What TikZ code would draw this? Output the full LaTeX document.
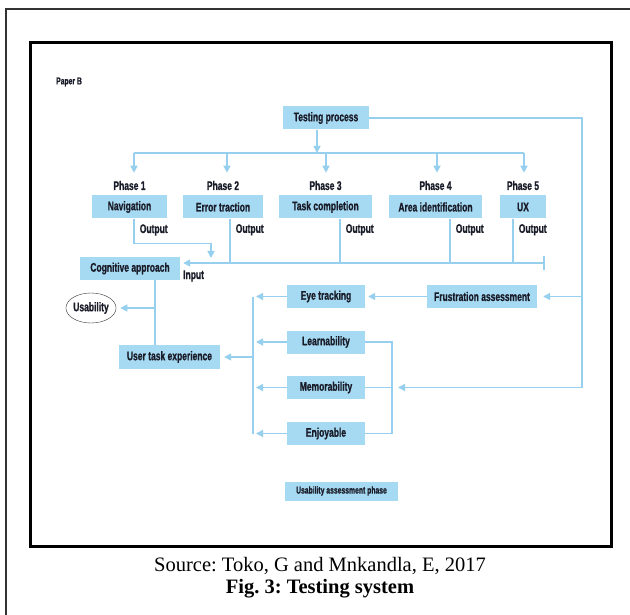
\documentclass[tikz,border=0pt]{standalone}
\usepackage{fontspec}
\setmainfont{Liberation Serif}
\newfontfamily\boxfont[FakeStretch=0.68, BoldFeatures={FakeBold=0.9}]{Liberation Sans}
\usetikzlibrary{shapes.geometric, arrows.meta, positioning}
\definecolor{boxblue}{RGB}{166,217,242}
\definecolor{lineblue}{RGB}{150,208,238}
\definecolor{inktext}{RGB}{25,28,40}
\frenchspacing

\begin{document}
\begin{tikzpicture}[x=1pt, y=-1pt]
    % Node styles
    \tikzstyle{box} = [rectangle, fill=boxblue, inner sep=0pt, minimum height=23pt, text=inktext, font=\boxfont\bfseries\fontsize{12.5}{14}\selectfont]
    \tikzstyle{lbl} = [inner sep=0pt, text=inktext, font=\boxfont\bfseries\fontsize{12.5}{14}\selectfont]
    \tikzstyle{flowline} = [draw=lineblue, line width=1.6pt]
    \tikzstyle{flowarrow} = [flowline, -{Triangle[length=7pt,width=7pt]}]

    \useasboundingbox (0,0) rectangle (630,615);
    % Frames
    \draw[line width=2pt, black!80] (6,615) -- (6,9) -- (630,9);
    \draw[line width=3pt] (30,43) rectangle (611,546);

    \node (paper) [lbl, anchor=west, font=\boxfont\bfseries\fontsize{10}{12}\selectfont] at (56,82) {Paper B};

    % Nodes
    \node (testing) [box, minimum width=86pt] at (326,118) {Testing process};
    \node (nav) [box, minimum width=75pt] at (129.5,207) {Navigation};
    \node (err) [box, minimum width=80pt] at (223,207) {Error traction};
    \node (task) [box, minimum width=93pt] at (325.5,207) {Task completion};
    \node (area) [box, minimum width=93pt] at (435.5,207) {Area identification};
    \node (ux) [box, minimum width=46pt] at (523,207) {UX};
    \node (ph1) [lbl, above=5pt of nav] {Phase 1};
    \node (ph2) [lbl, above=5pt of err] {Phase 2};
    \node (ph3) [lbl, above=5pt of task] {Phase 3};
    \node (ph4) [lbl, above=5pt of area] {Phase 4};
    \node (ph5) [lbl, above=5pt of ux] {Phase 5};

    \node (cog) [box, minimum width=100pt] at (130,268.5) {Cognitive approach};
    \node (input) [lbl, anchor=west] at (183,276) {Input};
    \node (usab) [ellipse, draw=black!80, thin, minimum width=50pt, minimum height=30pt, inner sep=0pt, text=inktext, font=\boxfont\bfseries\fontsize{12.5}{14}\selectfont] at (91,308) {Usability};
    \node (user) [box, minimum width=101pt, minimum height=24pt] at (169.5,357) {User task experience};

    \node (eye) [box, minimum width=78pt] at (326,296.5) {Eye tracking};
    \node (learn) [box, minimum width=78pt] at (326,342) {Learnability};
    \node (mem) [box, minimum width=78pt] at (326,387.5) {Memorability};
    \node (enjoy) [box, minimum width=78pt] at (326,433.5) {Enjoyable};
    \node (frus) [box, minimum width=110pt] at (482,296.5) {Frustration assessment};
    \node (uap) [box, minimum width=113pt, minimum height=19pt, font=\boxfont\bfseries\fontsize{10}{12}\selectfont] at (341.5,491) {Usability assessment phase};

    % Bus points
    \coordinate (tdown) at (317,153);
    \coordinate (b1) at (134,153);
    \coordinate (b2) at (227,153);
    \coordinate (b3) at (326,153);
    \coordinate (b4) at (437,153);
    \coordinate (b5) at (524,153);
    \coordinate (in1) at (211,258);
    \coordinate (c2) at (230,263);
    \coordinate (c3) at (340,263);
    \coordinate (c4) at (450,263);
    \coordinate (c5) at (513,263);
    \coordinate (cend) at (544,263);
    \coordinate (v1) at (155,308);
    \coordinate (lb) at (253,357);
    \coordinate (rb) at (392,387.5);
    \coordinate (rv) at (582,387.5);

    % Testing process to the phases
    \draw[flowarrow] (testing.south -| tdown) -- (tdown);
    \draw[flowline] (b1) -- (b5);
    \foreach \b/\p in {b1/ph1, b2/ph2, b3/ph3, b4/ph4, b5/ph5}
        \draw[flowarrow] (\b) -- ([yshift=8pt]\p.north -| \b);

    % Outputs
    \draw[flowarrow] (nav.south -| b1) -- node[lbl, right=5pt, pos=0.45] {Output} ++(0,25) -| (in1);
    \draw[flowline] (err.south -| c2) -- node[lbl, right=5pt, pos=0.25] {Output} (c2);
    \draw[flowline] (task.south -| c3) -- node[lbl, right=5pt, pos=0.25] {Output} (c3);
    \draw[flowline] (area.south -| c4) -- node[lbl, right=5pt, pos=0.25] {Output} (c4);
    \draw[flowline] (ux.south -| c5) -- node[lbl, right=5pt, pos=0.25] {Output} (c5);
    \draw[flowarrow] (cend) -- ([xshift=3pt, yshift=5.5pt]cog.east);
    \draw[flowline] ([yshift=7pt]cend) -- ([yshift=-7pt]cend);

    % Cognitive approach
    \draw[flowline] (cog.south -| v1) -- (user.north -| v1);
    \draw[flowarrow, shorten >=4pt] (v1) -- (usab.east);

    % Assessment group
    \draw[flowline] (eye.west -| lb) -- (enjoy.west -| lb);
    \foreach \n in {eye, learn, mem, enjoy}
        \draw[flowarrow, shorten >=3pt] (\n.west) -- (\n.west -| lb);
    \draw[flowarrow, shorten >=4pt] (lb) -- (user.east);
    \draw[flowline] (learn.east) -| (rb) |- (enjoy.east);
    \draw[flowline] (mem.east) -- (rb);
    \draw[flowarrow, shorten >=6pt] (testing.east) -| (rv) -- (rb);
    \draw[flowarrow, shorten >=6pt] (frus.east -| rv) -- (frus.east);
    \draw[flowarrow, shorten >=3pt] (frus.west) -- (eye.east);

    % Caption
    \node (source) [font=\fontsize{20.5}{24}\selectfont] at (320,566) {Source: Toko, G and Mnkandla, E, 2017};
    \node (fig) [font=\bfseries\fontsize{20.5}{24}\selectfont] at (320,589) {Fig. 3: Testing system};
\end{tikzpicture}
\end{document}
